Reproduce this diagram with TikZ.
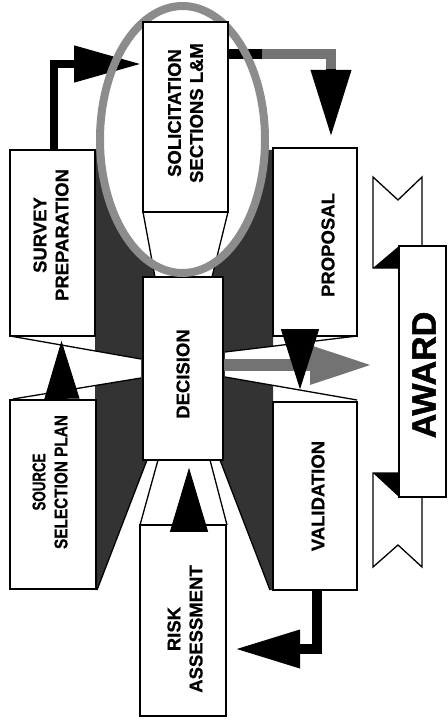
\documentclass[tikz,border=0pt]{standalone}
\usepackage{graphicx}
\usepackage{fontspec}
\setmainfont{Liberation Sans}
\newfontfamily\heavyfont[BoldFeatures={FakeBold=1.5}]{Liberation Sans}
\newfontfamily\lblfont[BoldFeatures={FakeBold=0.8}]{Liberation Sans}
\usetikzlibrary{arrows.meta,calc}
\begin{document}
\begin{tikzpicture}[x=1pt,y=-1pt,
  box/.style={draw=black, fill=white, line width=1.6pt, inner sep=0pt},
  lbl/.style={rotate=90, font=\lblfont\bfseries\fontsize{18.5}{22}\selectfont, align=center, inner sep=0pt},
  rayline/.style={draw=black, line width=1.3pt},
  darkzone/.style={fill=black!80},
  ringline/.style={draw=black!45, line width=8pt},
  banner/.style={draw=black, fill=white, line width=1.3pt, line join=miter}
]
\useasboundingbox (0,0) rectangle (447,727);

% dark stippled zone
\fill[darkzone] (95,150) -- (273,150) -- (273,590) -- (270,590) -- (220,460) -- (147,460) -- (97,590) -- (95,590) -- cycle;

% ellipse interior
\fill[white] (182.5,139.5) ellipse [x radius=82.5pt, y radius=133.5pt];

% white rays
\fill[white] (143,212) -- (228,212) -- (212,277) -- (155,277) -- cycle;
\draw[rayline] (143,212) -- (155,277) (228,212) -- (212,277);
\fill[white] (10,336) -- (141,359) -- (141,378) -- (13,399) -- cycle;
\draw[rayline] (10,336) -- (141,359) (13,399) -- (141,378);
\fill[white] (225,352) -- (357,336) -- (357,400) -- (225,377) -- cycle;
\draw[rayline] (225,352) -- (357,336) (225,377) -- (357,400);
\fill[white] (147,460) -- (220,460) -- (270,590) -- (97,590) -- cycle;
\draw[rayline] (147,460) -- (97,590) (220,460) -- (270,590);
\draw[rayline] (158,460) -- (140,525) (210,460) -- (227,525);

% boxes
\node[box, minimum width=85pt, minimum height=190pt] (solic) at (185.5,117) {};
\node[box, minimum width=85pt, minimum height=186pt] (survey) at (52.5,243) {};
\node[box, minimum width=86pt, minimum height=189pt] (source) at (53,494.5) {};
\node[box, minimum width=84pt, minimum height=188pt] (proposal) at (315,242) {};
\node[box, minimum width=84pt, minimum height=188pt] (valid) at (315,496) {};
\node[box, minimum width=80pt, minimum height=183pt] (decision) at (183,368.5) {};
\node[box, minimum width=86pt, minimum height=191pt] (risk) at (183,620.5) {};

% arrows around the top
\coordinate (a1tip) at (141,64);
\draw[line width=8pt, -{Triangle[length=67pt,width=35pt]}] ([xshift=1pt]survey.north) |- (a1tip);
\coordinate (a2tip) at (331,137);
\draw[line width=10pt, -{Triangle[length=67pt,width=38pt]}] ([yshift=63pt]solic.east) -| (a2tip);
\draw[black!55, line width=10pt] (262,54) -- (331,54) -- (331,69);

% ring
\draw[ringline] (182.5,139.5) ellipse [x radius=82.5pt, y radius=133.5pt];
\node[box, minimum width=85pt, minimum height=190pt] (solicB) at (185.5,117) {};

% other arrows
\draw[line width=1pt, -{Triangle[length=58pt,width=35pt]}] ([xshift=9pt,yshift=-1pt]source.north) -- ([xshift=9pt,yshift=-4pt]survey.south);
\draw[line width=1pt, -{Triangle[length=64pt,width=38pt]}] ([xshift=6pt,yshift=-7pt]risk.north) -- ([xshift=6pt,yshift=-7pt]decision.south);
\coordinate (a5tip) at (373,365);
\draw[black!55, line width=12pt, -{Triangle[length=63pt,width=36pt]}] ([yshift=3.5pt]decision.east) -- (a5tip);
\draw[line width=1pt, -{Triangle[length=60pt,width=38pt]}] ([xshift=-15pt,yshift=7pt]proposal.south) -- ([xshift=-15pt,yshift=12pt]valid.north);
\coordinate (a7tip) at (235,649);
\draw[line width=10pt, -{Triangle[length=65pt,width=36pt]}] ([xshift=2pt]valid.south) |- (a7tip);

% award banner
\filldraw[banner] (373,268) -- (373,177) -- (398,200) -- (422,177) -- (422,268) -- cycle;
\fill[black] (373,268) -- (399,246) -- (399,268) -- cycle;
\filldraw[banner] (373,473) -- (422,473) -- (422,567) -- (398,545) -- (373,567) -- cycle;
\fill[black] (373,473) -- (399,473) -- (399,497) -- cycle;
\node[box, minimum width=47pt, minimum height=251pt] (award) at (422.5,371.5) {};

% labels
\node[lbl] (solicT) at (185.5,113) {SOLICITATION\\SECTIONS L\&M};
\node[lbl] (surveyT) at (51,235) {SURVEY\\PREPARATION};
\node[lbl] (sourceT) at (50,482) {\scalebox{0.72}[1]{SOURCE}\\\scalebox{0.83}[1]{SELECTION PLAN}};
\node[lbl] (proposalT) at (328,245) {PROPOSAL};
\node[lbl] (validT) at (318,496) {VALIDATION};
\node[lbl] (decisionT) at (183,374) {DECISION};
\node[lbl] (riskT) at (185,629) {RISK\\ASSESSMENT};
\node[rotate=90, inner sep=0pt, font=\heavyfont\bfseries\fontsize{34}{40}\selectfont] (awardT) at (424,375) {AWARD};
\end{tikzpicture}
\end{document}
